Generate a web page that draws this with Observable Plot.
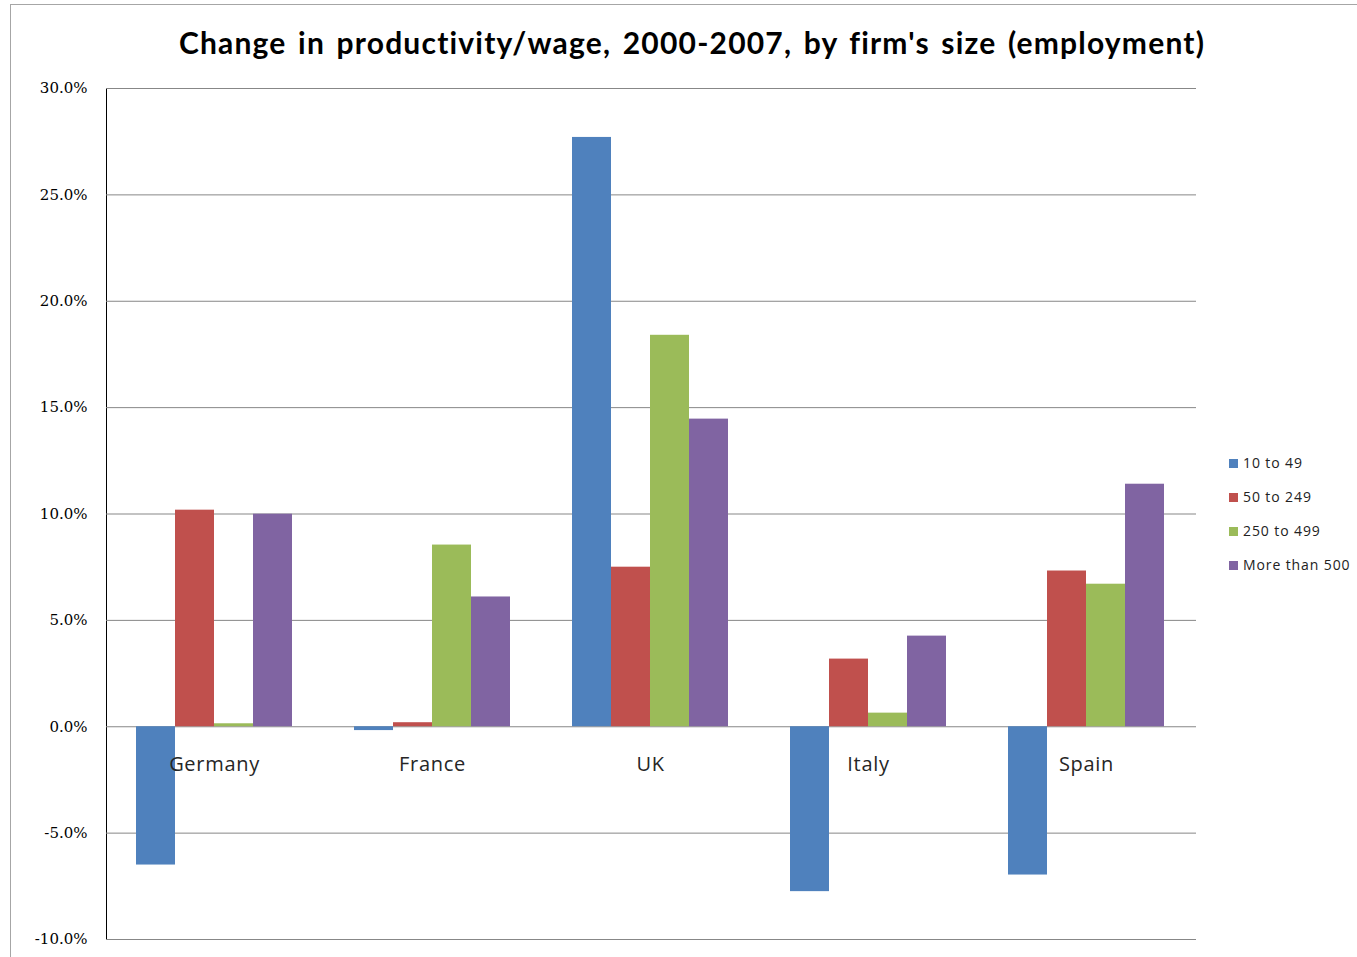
<!DOCTYPE html>
<html>
<head>
<meta charset="utf-8">
<script src="https://cdn.jsdelivr.net/npm/d3@7"></script>
<script src="https://cdn.jsdelivr.net/npm/@observablehq/plot@0.6"></script>
<style>
  body { margin: 0; background: #fff; }
  #wrap { position: relative; width: 1357px; height: 957px; overflow: hidden; background: #fff; }
  #frame { position: absolute; left: 10px; top: 4px; width: 1400px; height: 1000px;
           border-left: 1.5px solid #a6a6a6; border-top: 1.5px solid #a6a6a6; }
  #chart { position: absolute; left: 0; top: 0; }
  #title { position: absolute; left: 0; top: 24px; width: 1384px; text-align: center;
           font-family: Lato, "Open Sans", sans-serif; font-weight: bold; font-size: 30px;
           letter-spacing: 1.2px; word-spacing: 3px;
           line-height: 36px; color: #000; white-space: nowrap; }
  #legend { position: absolute; left: 1229px; top: 446px; font-family: "Open Sans", sans-serif;
            font-size: 14px; letter-spacing: 0.9px; color: #222; }
  #legend .row { height: 34px; line-height: 34px; display: flex; align-items: center; white-space: nowrap; }
  #legend .sw { width: 9px; height: 9px; margin-right: 5px; flex: none; }
  #chart text.cat { letter-spacing: 0.7px; }
</style>
</head>
<body>
<div id="wrap">
  <div id="frame"></div>
  <div id="chart"></div>
  <div id="title">Change in productivity/wage, 2000-2007, by firm's size (employment)</div>
  <div id="legend"></div>
</div>
<script>
const countries = ["Germany", "France", "UK", "Italy", "Spain"];
const sizes = ["10 to 49", "50 to 249", "250 to 499", "More than 500"];
const colors = ["#4F81BD", "#C0504D", "#9BBB59", "#8064A2"];
const v10to49 = [-6.5, -0.18, 27.7, -7.75, -6.97];
const v50to249 = [10.18, 0.19, 7.5, 3.18, 7.32];
const v250to499 = [0.14, 8.54, 18.4, 0.64, 6.7];
const vMoreThan500 = [9.99, 6.1, 14.46, 4.26, 11.4];
const yTicks = [-10, -5, 0, 5, 10, 15, 20, 25, 30];

const series = [v10to49, v50to249, v250to499, vMoreThan500];
const rows = countries.flatMap((c, i) => sizes.map((s, j) => ({country: c, size: s, value: series[j][i]})));
const labels = countries.map(c => ({country: c, v: 0}));

const chart = Plot.plot({
  width: 1357,
  height: 957,
  marginLeft: 106,
  marginRight: 161,
  marginTop: 88,
  marginBottom: 18,
  style: {fontFamily: "DejaVu Serif", fontSize: "15px", color: "#000", background: "transparent"},
  fx: {domain: countries, paddingInner: 0, paddingOuter: 0, axis: null, label: null},
  x: {domain: sizes, paddingInner: 0, paddingOuter: 0.76, axis: null},
  y: {domain: [-10, 30], ticks: yTicks, tickFormat: d => d.toFixed(1) + "%", tickSize: 0, tickPadding: 19, label: null, line: true},
  color: {domain: sizes, range: colors},
  marks: [
    Plot.ruleY(yTicks, {stroke: "#878787", strokeWidth: 1}),
    Plot.barY(rows, {fx: "country", x: "size", y: "value", fill: "size", dx: -1}),
    Plot.text(labels, {fx: "country", y: "v", text: "country", dy: 38, dx: -1, fontFamily: "Open Sans", fontSize: 20, fill: "#262626"})
  ]
});
chart.querySelectorAll("text").forEach(t => {
  if (countries.includes(t.textContent)) t.classList.add("cat");
});
document.getElementById("chart").appendChild(chart);

const legend = document.getElementById("legend");
sizes.forEach((s, i) => {
  const row = document.createElement("div");
  row.className = "row";
  const sw = document.createElement("span");
  sw.className = "sw";
  sw.style.background = colors[i];
  const t = document.createElement("span");
  t.textContent = s;
  row.appendChild(sw);
  row.appendChild(t);
  legend.appendChild(row);
});
</script>
</body>
</html>
